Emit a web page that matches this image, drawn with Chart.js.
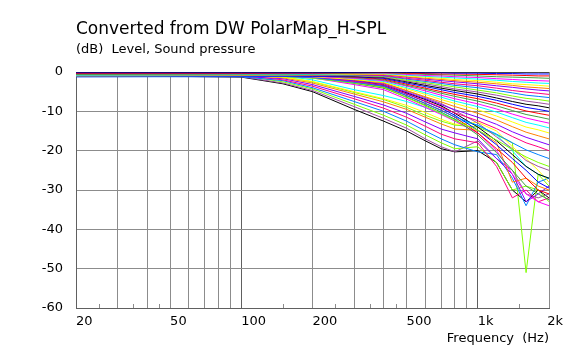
<!DOCTYPE html>
<html><head><meta charset="utf-8">
<script src="https://cdn.jsdelivr.net/npm/chart.js@4/dist/chart.umd.min.js"></script>
<style>html,body{margin:0;padding:0;background:#fff;overflow:hidden}canvas{display:block}</style>
</head><body>
<canvas id="c" width="578" height="351"></canvas>
<script>
// ---------- data ----------
const freqs = [20, 100, 150, 200, 300, 400, 500, 600, 700, 800, 1000, 1200, 1400, 1600, 1800, 2000];
const gridFreqs = [20, 30, 40, 50, 60, 70, 80, 90, 100, 200, 300, 400, 500, 600, 700, 800, 900, 1000, 2000];
const freqLabels = {20: '20', 50: '50', 100: '100', 200: '200', 500: '500', 1000: '1k', 2000: '2k'};
const minorTickFreqs = [25, 35, 45, 150, 250, 350, 450, 1500];
const yMin = -60, yMax = 0, yStep = 10;

// upper fan (front angles)
const u00 = [0, 0, 0, 0, 0, 0, 0, 0, 0, 0, 0, 0, 0, 0, 0, 0];
const u01 = [-0.2, -0.2, -0.2, -0.2, -0.1, 0, -0.1, -0.2, -0.2, -0.3, -0.3, -0.4, -0.4, -0.5, -0.5, -0.5];
const u02 = [-0.4, -0.4, -0.3, -0.3, -0.2, -0.1, -0.3, -0.4, -0.5, -0.5, -0.6, -0.7, -0.8, -0.9, -1, -1];
const u03 = [-0.6, -0.5, -0.5, -0.5, -0.3, -0.2, -0.4, -0.6, -0.7, -0.8, -1, -1.2, -1.3, -1.4, -1.5, -1.6];
const u04 = [-0.2, -0.3, -0.3, -0.4, -0.3, -0.3, -0.6, -0.9, -1, -1.2, -1.4, -1.7, -1.9, -2.1, -2.2, -2.3];
const u05 = [-0.8, -0.7, -0.7, -0.6, -0.4, -0.4, -0.8, -1.1, -1.3, -1.5, -1.8, -2.1, -2.4, -2.6, -2.8, -2.9];
const u06 = [-0.5, -0.5, -0.5, -0.6, -0.5, -0.5, -1, -1.3, -1.6, -1.9, -2.2, -2.6, -3, -3.2, -3.4, -3.6];
const u07 = [-1, -0.9, -0.8, -0.8, -0.6, -0.6, -1.2, -1.6, -1.9, -2.2, -2.6, -3, -3.4, -3.8, -4, -4.2];
const u08 = [-0.3, -0.4, -0.4, -0.5, -0.6, -0.7, -1.3, -1.8, -2.2, -2.5, -3, -3.5, -3.9, -4.3, -4.6, -4.8];
const u09 = [-0.7, -0.6, -0.6, -0.7, -0.7, -0.9, -1.6, -2.1, -2.6, -3, -3.5, -4.1, -4.7, -5.1, -5.4, -5.7];
const u10 = [-1.1, -1, -1, -0.9, -0.8, -1, -1.8, -2.4, -2.9, -3.4, -4, -4.7, -5.3, -5.9, -6.2, -6.5];
const u11 = [-0.4, -0.5, -0.6, -0.7, -0.9, -1.1, -2.1, -2.7, -3.3, -3.8, -4.6, -5.3, -6.1, -6.7, -7, -7.4];
const u12 = [-0.9, -0.8, -0.8, -0.9, -1, -1.3, -2.3, -3, -3.7, -4.3, -5.1, -5.9, -6.7, -7.4, -7.8, -8.2];
const u13 = [-0.6, -0.6, -0.7, -0.8, -1.1, -1.4, -2.5, -3.4, -4.1, -4.7, -5.6, -6.6, -7.5, -8.2, -8.6, -9.1];
const u14 = [-1.2, -1.1, -1.1, -1.1, -1.2, -1.6, -2.8, -3.7, -4.5, -5.2, -6.2, -7.2, -8.2, -9, -9.5, -10];
const u15 = [-0.5, -0.6, -0.7, -0.9, -1.3, -1.8, -3.1, -4.1, -5, -5.7, -6.8, -7.9, -9, -9.9, -10.5, -11];
const u16 = [-0.8, -0.8, -0.9, -1, -1.4, -2, -3.4, -4.4, -5.4, -6.2, -7.4, -8.6, -9.8, -10.8, -11.4, -12];
const u17 = [-1, -1, -1, -1.1, -1.6, -2.2, -3.6, -4.8, -5.9, -6.8, -8.1, -9.4, -10.7, -11.7, -12.4, -13];
const u18 = [-0.3, -0.4, -0.5, -0.7, -1.7, -2.4, -4, -5.3, -6.4, -7.4, -8.8, -10.2, -11.6, -12.8, -13.5, -14.2];
const u19 = [-0.9, -0.9, -1, -1.2, -1.9, -2.6, -4.3, -5.7, -7, -8, -9.6, -11.2, -12.7, -14, -14.7, -15.5];
const u20 = [-0.6, -0.7, -0.8, -1, -2, -2.8, -4.7, -6.3, -7.6, -8.8, -10.5, -12.2, -13.9, -15.3, -16.2, -17];
const u21 = [-1, -1, -1.1, -1.3, -2.2, -3, -5.1, -6.8, -8.3, -9.6, -11.5, -13.3, -15.2, -16.6, -17.6, -18.5];
const u22 = [-0.5, -0.6, -0.8, -1.1, -2.4, -3.3, -5.5, -7.4, -9, -10.4, -12.4, -14.4, -16.4, -18, -19, -20];
const u23 = [-0.8, -0.9, -1.1, -1.4, -2.6, -3.6, -6, -8, -9.8, -11.4, -13.6, -15.8, -18, -19.8, -21, -22];
const u24 = [-1, -1, -1.2, -1.6, -2.8, -3.9, -6.5, -8.6, -10.6, -12.3, -14.8, -17.3, -19.7, -21.6, -23, -24];

// middle group (steep fall above 700 Hz)
const m00 = [-0.3, -0.3, -0.4, -0.6, -1.5, -2.8, -4.8, -6.5, -8, -9.8, -13, -16.5, -19.5, -22.5, -24, -25];
const m01 = [-0.7, -0.6, -0.7, -1, -2, -3.3, -5.3, -7, -8.6, -10.5, -14, -17.5, -21, -24, -26, -27];
const m02 = [-0.4, -0.5, -0.6, -0.9, -2.3, -3.5, -5.6, -7.5, -9.2, -11, -14.8, -18.5, -22, -25, -28, -29.5];
const m03 = [-0.9, -0.8, -0.9, -1.2, -2.6, -3.8, -6, -8, -9.7, -11.5, -15.5, -19.5, -23, -27, -30, -31];
const m04 = [-0.6, -0.6, -0.8, -1.3, -2.9, -4.1, -6.4, -8.4, -10.2, -12, -16, -20.5, -25, -29, -31, -32.5];
const m05 = [-1.1, -1, -1.1, -1.5, -3.2, -4.5, -6.9, -9, -10.8, -12.5, -15.5, -20, -26, -31, -33, -34];

// lower group (rear angles, early roll-off)
const l00 = [-0.5, -0.6, -1, -2, -4.5, -6, -7.5, -9, -10.5, -12, -13.5, -16, -20, -24, -26, -27];
const l01 = [-0.9, -1, -1.3, -2.4, -5, -6.8, -8.5, -10.3, -12, -13.3, -12.8, -15, -19, -22, -25, -28];
const l02 = [-0.4, -0.7, -1.5, -2.8, -5.6, -7.6, -9.5, -11.5, -13.2, -14.5, -14.8, -18, -28, -27, -29, -30];
const l03 = [-1, -1.1, -1.7, -3.2, -6.2, -8.4, -10.5, -12.7, -14.5, -15.5, -17, -22, -26, -33, -31, -29];
const l04 = [-0.6, -0.8, -2, -3.6, -6.8, -9.2, -11.5, -13.8, -15.8, -17, -18, -24, -32, -30, -33, -32];
const l05 = [-1.2, -1.2, -2.2, -4, -7.5, -10, -12.5, -15, -17, -18.5, -20.3, -21, -27, -34, -28, -27];
const l06 = [-0.7, -0.9, -2.5, -4.3, -8.2, -11, -13.5, -16, -18, -19.5, -19, -23, -30, -29, -30, -33];
const l07 = [-1.1, -1.2, -2.8, -4.7, -8.8, -11.8, -14.3, -17, -19, -20.3, -17.5, -22, -25, -31, -32, -31];
const l08 = [-0.8, -1.3, -3, -5, -9.5, -12.5, -15, -17.5, -19.5, -20.3, -20, -23, -30, -33, -30, -32];

// curve with the deep notch near 1.6 kHz
const notch = [-0.5, -0.7, -1.2, -2.5, -5.2, -7, -9, -11, -12.5, -13.5, -14, -16, -18, -51, -26, -29];

const curves = [u00,u01,u02,u03,u04,u05,u06,u07,u08,u09,u10,u11,u12,u13,u14,u15,u16,u17,u18,u19,u20,u21,u22,u23,u24,
                m00,m01,m02,m03,m04,m05,
                l00,l01,l02,l03,l04,l05,l06,l07,l08];

// ---------- style ----------
const palette = ['#000000','#0000ff','#ff0000','#40a040','#ff00ff','#00ffff','#ffff00','#ff8000','#8000ff','#ff0080','#0080ff','#80ff00','#a050a0'];
const FONT = '"DejaVu Sans", Verdana, sans-serif';

const datasets = curves.map((arr, i) => ({
  data: arr.map((v, j) => ({x: freqs[j], y: v})),
  borderColor: palette[i % palette.length],
  borderWidth: 1,
  pointRadius: 0,
  tension: 0,
  fill: false
}));
datasets.push({
  data: notch.map((v, j) => ({x: freqs[j], y: v})),
  borderColor: '#80ff00', borderWidth: 1, pointRadius: 0, tension: 0, fill: false
});

const minorTicks = {
  id: 'minorTicks',
  beforeDraw(chart) {
    // keep the last x label ("2k") inside the frame, right-aligned like the original
    const xs = chart.scales.x;
    const items = xs.getLabelItems(chart.chartArea);
    const last = items[items.length - 1];
    if (last && last.label === '2k') {
      last.options.textAlign = 'right';
      last.options.translation[0] = xs.getPixelForValue(2000) + 14;
    }
  },
  afterDraw(chart) {
    const {ctx, chartArea} = chart;
    const xs = chart.scales.x;
    ctx.save();
    ctx.strokeStyle = '#8c8c8c';
    ctx.lineWidth = 1;
    minorTickFreqs.forEach(f => {
      const px = Math.round(xs.getPixelForValue(f)) + 0.5;
      ctx.beginPath();
      ctx.moveTo(px, chartArea.bottom);
      ctx.lineTo(px, chartArea.bottom - 4);
      ctx.stroke();
    });
    ctx.restore();
  }
};

new Chart(document.getElementById('c'), {
  type: 'line',
  data: {datasets},
  plugins: [minorTicks],
  options: {
    responsive: false,
    animation: false,
    devicePixelRatio: 1,
    layout: {padding: {left: 0, right: 29, top: 0, bottom: 0}},
    plugins: {
      legend: {display: false},
      tooltip: {enabled: false},
      title: {
        display: true, text: 'Converted from DW PolarMap_H-SPL', align: 'start', fullSize: false,
        color: '#000', font: {family: FONT, size: 17, weight: 'normal'},
        padding: {top: 19, bottom: 0}
      },
      subtitle: {
        display: true, text: '(dB)  Level, Sound pressure', align: 'start', fullSize: false,
        color: '#000', font: {family: FONT, size: 13, weight: 'normal'},
        padding: {top: 2, bottom: 15}
      }
    },
    scales: {
      x: {
        type: 'logarithmic', min: 20, max: 2000,
        afterBuildTicks: (axis) => { axis.ticks = gridFreqs.map(v => ({value: v})); },
        afterFit: (s) => { s.height = 43; },
        ticks: {
          autoSkip: false, maxRotation: 0, minRotation: 0, align: 'start', padding: 6,
          color: '#000', font: {family: FONT, size: 13},
          callback: (v) => freqLabels[v] !== undefined ? freqLabels[v] : ''
        },
        grid: {
          drawTicks: false,
          color: (c) => (c.tick && (c.tick.value === 100 || c.tick.value === 1000)) ? '#606060' : '#8c8c8c'
        },
        border: {display: true, color: '#606060'},
        title: {
          display: true, text: 'Frequency  (Hz)', align: 'end', color: '#000',
          font: {family: FONT, size: 13}, padding: {top: 0, bottom: 5}
        }
      },
      y: {
        min: yMin, max: yMax,
        afterFit: (s) => { s.width = 76; },
        ticks: {stepSize: yStep, padding: 13, color: '#000', font: {family: FONT, size: 13}},
        grid: {drawTicks: false, color: '#8c8c8c'},
        border: {display: true, color: '#606060'}
      }
    }
  }
});
</script>
</body></html>
